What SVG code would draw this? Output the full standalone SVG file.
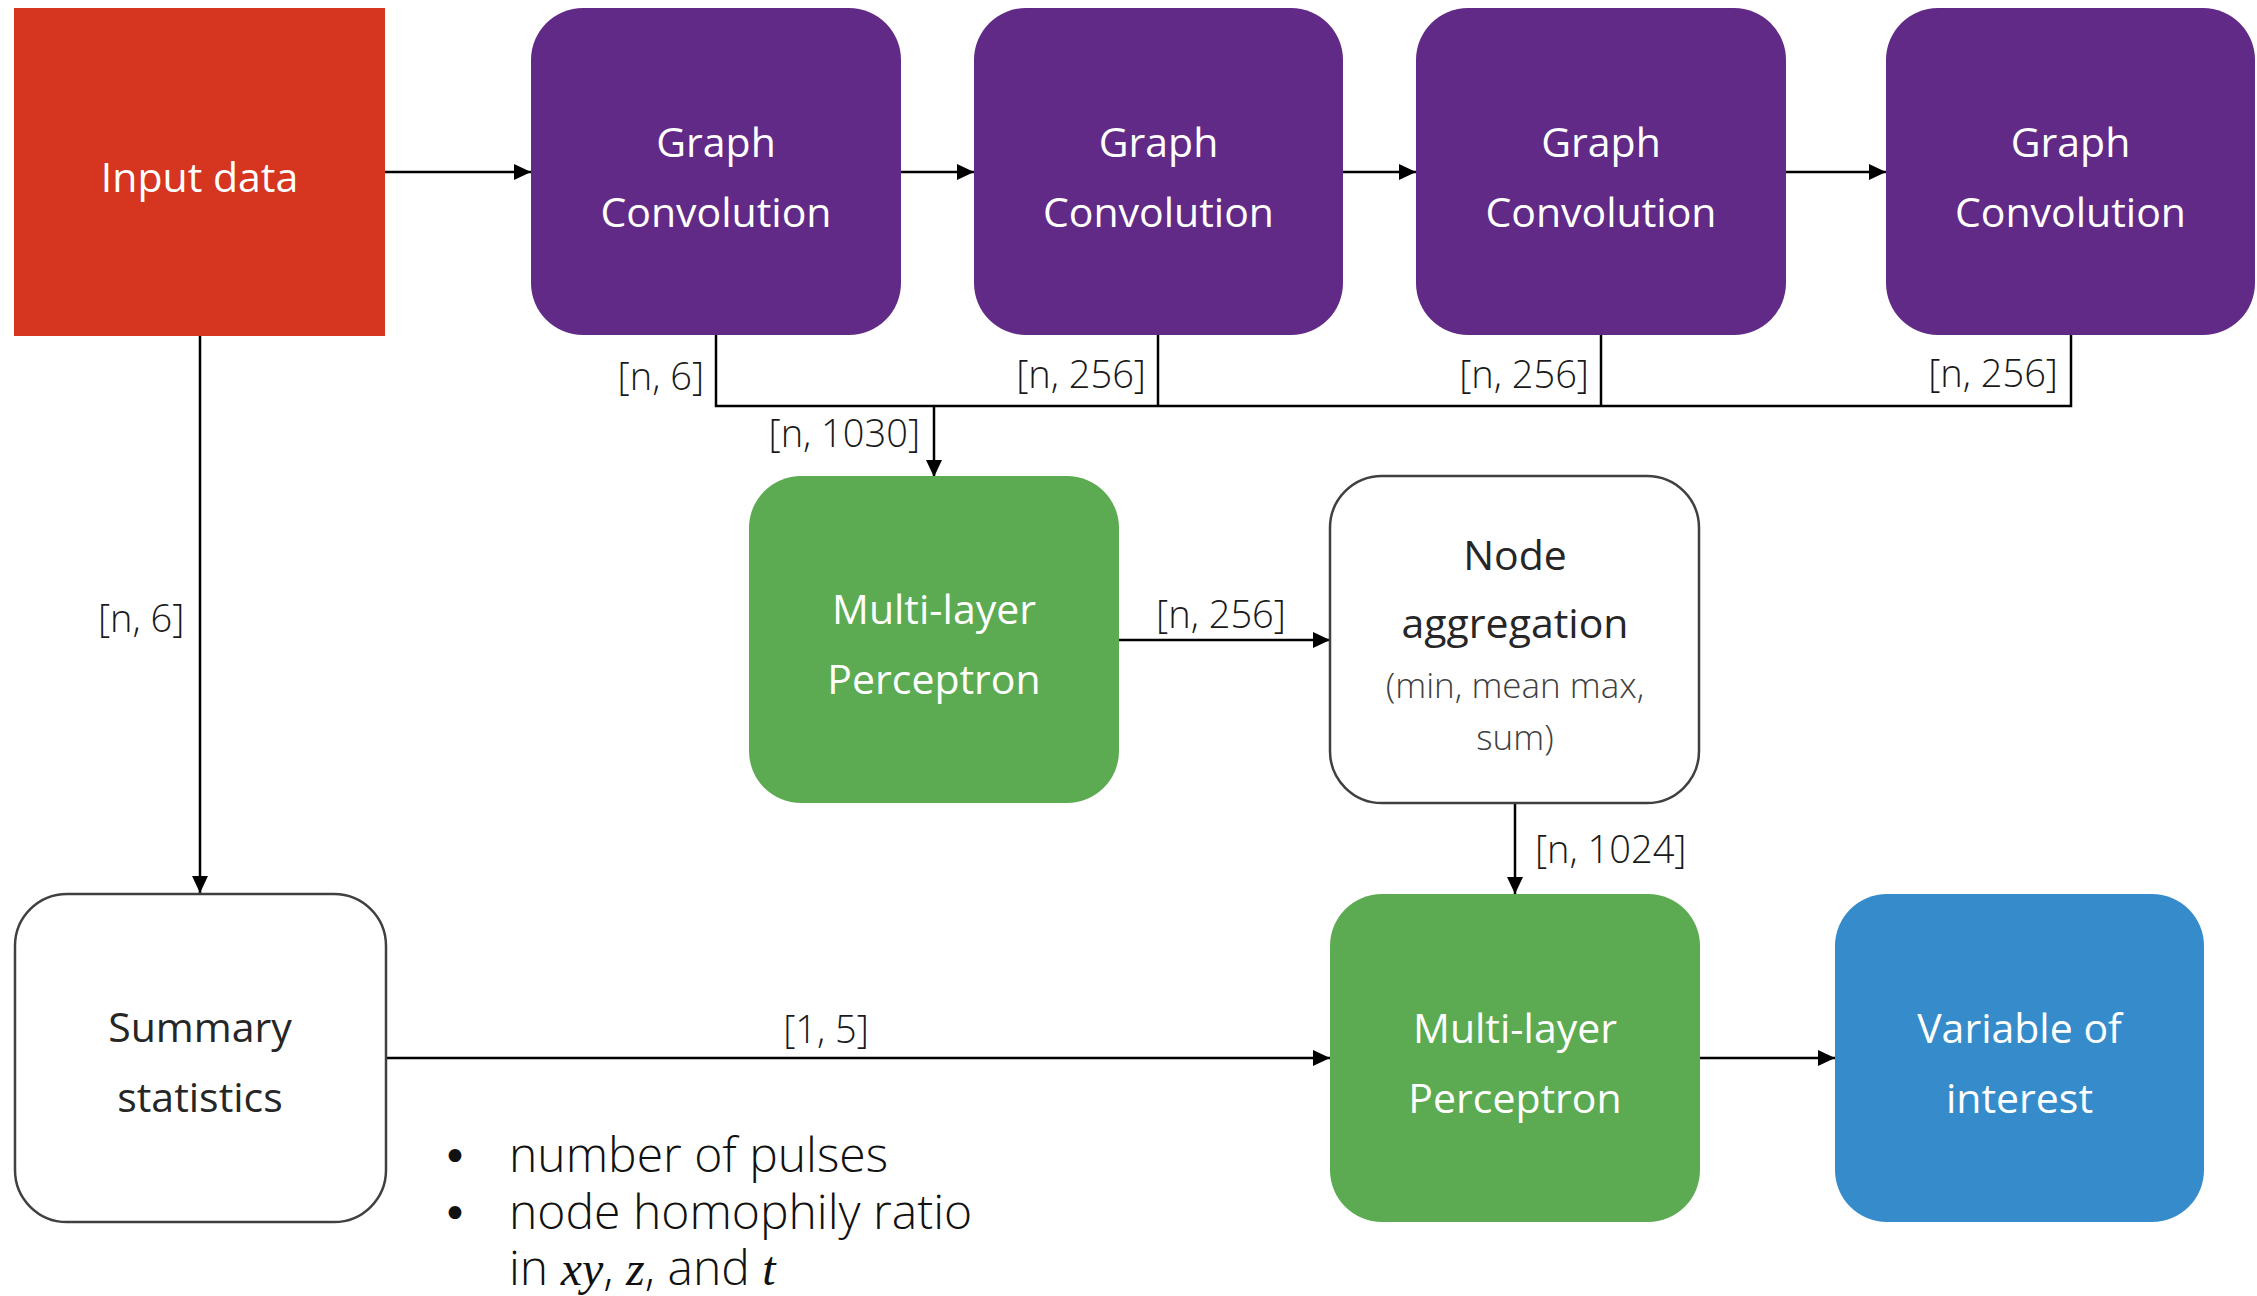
<svg xmlns="http://www.w3.org/2000/svg" width="2257" height="1296" viewBox="0 0 2257 1296">
<defs>
<marker id="arr" markerUnits="userSpaceOnUse" markerWidth="17" markerHeight="16" refX="17" refY="8" orient="auto">
<path d="M0,0 L17,8 L0,16 Z" fill="#000"/>
</marker>
<style>
.box{stroke:none}
.gc{fill:#612A87}
.mlp{fill:#5CAB52}
.out{fill:#368CCB}
.wht{fill:#fff;stroke:#404040;stroke-width:2.5}
.t{font-family:"Open Sans","Noto Sans",sans-serif;font-size:41px;text-anchor:middle}
.tw{fill:#fff}
.td{fill:#262626}
.sub{font-family:"Open Sans","Noto Sans",sans-serif;font-size:35px;font-weight:300;fill:#404040;text-anchor:middle}
.lbl{font-family:"Open Sans","Noto Sans",sans-serif;font-size:38px;font-weight:300;fill:#1a1a1a}
.bul{font-family:"Open Sans","Noto Sans",sans-serif;font-size:48px;font-weight:300;fill:#111}
.dot{font-family:"DejaVu Sans",sans-serif;font-size:44px;fill:#111}
.m{font-family:"Liberation Serif","DejaVu Serif",serif;font-style:italic;font-weight:400}
.c{fill:none;stroke:#000;stroke-width:2.5}
</style>
</defs>
<rect width="2257" height="1296" fill="#fff"/>

<g id="connectors">
<line class="c" x1="385" y1="172" x2="531" y2="172" marker-end="url(#arr)"/>
<line class="c" x1="901" y1="172" x2="974" y2="172" marker-end="url(#arr)"/>
<line class="c" x1="1343" y1="172" x2="1416" y2="172" marker-end="url(#arr)"/>
<line class="c" x1="1786" y1="172" x2="1886" y2="172" marker-end="url(#arr)"/>
<polyline class="c" points="716,335 716,406 2071,406 2071,335"/>
<line class="c" x1="1158" y1="335" x2="1158" y2="406"/>
<line class="c" x1="1601" y1="335" x2="1601" y2="406"/>
<line class="c" x1="934" y1="406" x2="934" y2="477" marker-end="url(#arr)"/>
<line class="c" x1="1119" y1="640" x2="1330" y2="640" marker-end="url(#arr)"/>
<line class="c" x1="200" y1="336" x2="200" y2="893" marker-end="url(#arr)"/>
<line class="c" x1="1515" y1="803" x2="1515" y2="894" marker-end="url(#arr)"/>
<line class="c" x1="386" y1="1058" x2="1330" y2="1058" marker-end="url(#arr)"/>
<line class="c" x1="1700" y1="1058" x2="1835" y2="1058" marker-end="url(#arr)"/>
<text class="lbl" x="704" y="390" text-anchor="end">[n, 6]</text>
<text class="lbl" x="1146" y="388" text-anchor="end">[n, 256]</text>
<text class="lbl" x="1589" y="388" text-anchor="end">[n, 256]</text>
<text class="lbl" x="2058" y="387" text-anchor="end">[n, 256]</text>
<text class="lbl" x="920" y="447" text-anchor="end">[n, 1030]</text>
<text class="lbl" x="1221" y="628" text-anchor="middle">[n, 256]</text>
<text class="lbl" x="98" y="632">[n, 6]</text>
<text class="lbl" x="1535" y="863">[n, 1024]</text>
<text class="lbl" x="826" y="1043" text-anchor="middle">[1, 5]</text>
</g>

<g id="input">
<rect x="14" y="8" width="371" height="328" fill="#D63520"/>
<text class="t tw" x="199.5" y="192">Input data</text>
</g>

<g id="gc1">
<rect class="gc" x="531" y="8" width="370" height="327" rx="52"/>
<text class="t tw" x="716" y="157">Graph</text>
<text class="t tw" x="716" y="227">Convolution</text>
</g>
<g id="gc2">
<rect class="gc" x="974" y="8" width="369" height="327" rx="52"/>
<text class="t tw" x="1158.5" y="157">Graph</text>
<text class="t tw" x="1158.5" y="227">Convolution</text>
</g>
<g id="gc3">
<rect class="gc" x="1416" y="8" width="370" height="327" rx="52"/>
<text class="t tw" x="1601" y="157">Graph</text>
<text class="t tw" x="1601" y="227">Convolution</text>
</g>
<g id="gc4">
<rect class="gc" x="1886" y="8" width="369" height="327" rx="52"/>
<text class="t tw" x="2070.5" y="157">Graph</text>
<text class="t tw" x="2070.5" y="227">Convolution</text>
</g>

<g id="mlp1">
<rect class="mlp" x="749" y="476" width="370" height="327" rx="52"/>
<text class="t tw" x="934" y="624">Multi-layer</text>
<text class="t tw" x="934" y="694">Perceptron</text>
</g>

<g id="nodeagg">
<rect class="wht" x="1330" y="476" width="369" height="327" rx="52"/>
<text class="t td" x="1515" y="570">Node</text>
<text class="t td" x="1515" y="638">aggregation</text>
<text class="sub" x="1515" y="698">(min, mean max,</text>
<text class="sub" x="1515" y="750">sum)</text>
</g>

<g id="summary">
<rect class="wht" x="15" y="894" width="371" height="328" rx="52"/>
<text class="t td" x="200" y="1042">Summary</text>
<text class="t td" x="200" y="1112">statistics</text>
</g>

<g id="mlp2">
<rect class="mlp" x="1330" y="894" width="370" height="328" rx="52"/>
<text class="t tw" x="1515" y="1043">Multi-layer</text>
<text class="t tw" x="1515" y="1113">Perceptron</text>
</g>

<g id="voi">
<rect class="out" x="1835" y="894" width="369" height="328" rx="52"/>
<text class="t tw" x="2019.5" y="1043">Variable of</text>
<text class="t tw" x="2019.5" y="1113">interest</text>
</g>

<g id="bullets">
<text class="dot" x="442" y="1172">•</text>
<text class="bul" x="509" y="1172">number of pulses</text>
<text class="dot" x="442" y="1229">•</text>
<text class="bul" x="509" y="1229">node homophily ratio</text>
<text class="bul" x="509" y="1285">in <tspan class="m">xy</tspan>, <tspan class="m">z</tspan>, and <tspan class="m">t</tspan></text>
</g>
</svg>
